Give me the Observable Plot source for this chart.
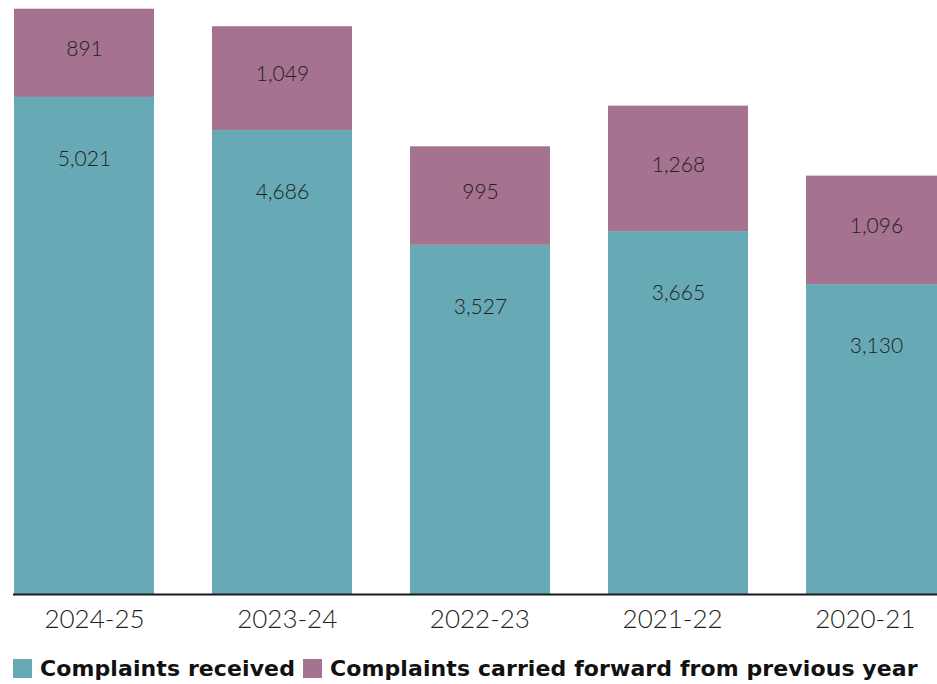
<!DOCTYPE html>
<html>
<head>
<meta charset="utf-8">
<script src="https://cdn.jsdelivr.net/npm/d3@7"></script>
<script src="https://cdn.jsdelivr.net/npm/@observablehq/plot@0.6"></script>
<style>
  html, body { margin: 0; padding: 0; background: #fff; }
  #chart { position: relative; width: 937px; height: 684px; overflow: hidden; font-family: Lato, sans-serif; }
  #legend { position: absolute; left: 13px; top: 656px; display: flex; align-items: center; font-family: "DejaVu Sans", sans-serif; font-weight: 700; font-size: 22px; color: #111; white-space: nowrap; letter-spacing: 0.1px; }
  .sw { display: inline-block; width: 19px; height: 19px; margin-right: 8px; }
  .item { display: flex; align-items: center; margin-right: 8px; }
</style>
</head>
<body>
<div id="chart"><div id="legend"></div></div>
<script>
// Complaints per reporting year (most recent first)
const years = ["2024-25", "2023-24", "2022-23", "2021-22", "2020-21"];
const received = [5021, 4686, 3527, 3665, 3130];
const carriedForward = [891, 1049, 995, 1268, 1096];
const seriesNames = ["Complaints received", "Complaints carried forward from previous year"];
const seriesColors = ["#67a9b5", "#a5728f"];

const rows = years.flatMap((year, i) => [
  {year, series: seriesNames[0], value: received[i]},
  {year, series: seriesNames[1], value: carriedForward[i]}
]);
const totals = years.map((year, i) => ({year, received: received[i], carried: carriedForward[i]}));

const fmt = d3.format(",");
const textColor = "#231f20";

const plot = Plot.plot({
  width: 937,
  height: 645,
  marginTop: 0,
  marginLeft: 13,
  marginRight: 0,
  marginBottom: 51,
  style: {fontFamily: "Lato, sans-serif", background: "#fff", overflow: "visible"},
  x: {domain: years, range: [13, 947], paddingInner: 0.295, paddingOuter: 0, axis: null},
  y: {domain: [0, 6000], axis: null},
  color: {domain: seriesNames, range: seriesColors},
  marks: [
    Plot.barY(rows, Plot.stackY({x: "year", y: "value", fill: "series", order: seriesNames})),
    // value labels inside each segment
    Plot.text(totals, {x: "year", y: "received", text: d => fmt(d.received), dy: 62, fontSize: 21, fontWeight: 300, fill: textColor}),
    Plot.text(totals, {x: "year", y: d => d.received + d.carried / 2, text: d => fmt(d.carried), dy: -4, fontSize: 21, fontWeight: 300, fill: textColor}),
    Plot.ruleY([0], {stroke: "#1a1a1a", strokeWidth: 2}),
    // category labels under the baseline
    ...years.map((year, i) => Plot.text([year], {
      x: d => d, frameAnchor: "bottom", dy: 33, dx: 10 - 5.3 * i,
      fontSize: 26, fontWeight: 300, fill: textColor, text: d => d
    }))
  ]
});
document.getElementById("chart").prepend(plot);

const legend = document.getElementById("legend");
seriesNames.forEach((name, i) => {
  const item = document.createElement("span");
  item.className = "item";
  const sw = document.createElement("span");
  sw.className = "sw";
  sw.style.background = seriesColors[i];
  item.appendChild(sw);
  item.appendChild(document.createTextNode(name));
  legend.appendChild(item);
});
</script>
</body>
</html>
